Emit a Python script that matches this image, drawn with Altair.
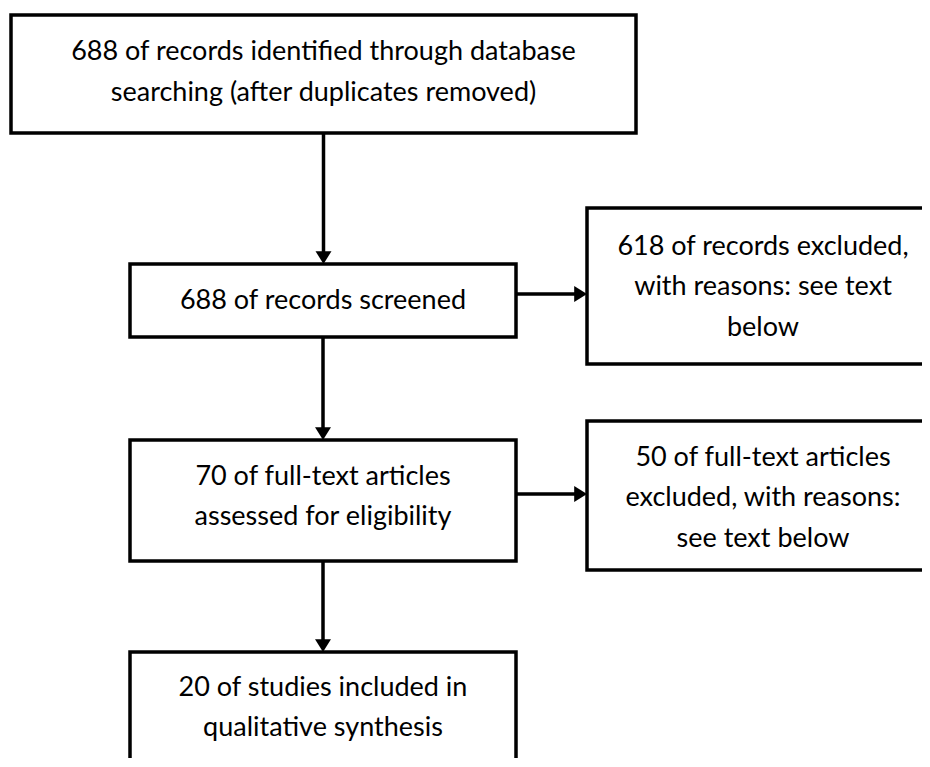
import altair as alt
import pandas as pd

# ---- content ----
box_ids = ["identified", "screened", "excluded_records", "fulltext", "excluded_fulltext", "included"]
box_lines = [
    ["688 of records identified through database", "searching (after duplicates removed)"],
    ["688 of records screened"],
    ["618 of records excluded,", "with reasons: see text", "below"],
    ["70 of full-text articles", "assessed for eligibility"],
    ["50 of full-text articles", "excluded, with reasons:", "see text below"],
    ["20 of studies included in", "qualitative synthesis"],
]
# flow links (from, to, direction)
link_from = ["identified", "screened", "fulltext", "screened", "fulltext"]
link_to = ["screened", "fulltext", "included", "excluded_records", "excluded_fulltext"]
link_dir = ["down", "down", "down", "right", "right"]

# ---- layout (page pixel coordinates) ----
box_x1 = [11, 130, 587, 130, 587, 130]
box_x2 = [636, 516, 940, 516, 940, 516]
box_y1 = [15, 264, 208, 440, 421, 652]
box_y2 = [133, 337, 364, 561, 570, 800]
text_center_y = [72.5, 301, 287, 497, 498, 708]
line_gap = 40.5
head_len = 12.8
right_arrow_y = {"excluded_records": 294, "excluded_fulltext": 494}

W, H = 914, 750
xs = alt.Scale(domain=[8, 8 + W], range=[0, W])
ys = alt.Scale(domain=[8, 8 + H], range=[0, H])

boxes = pd.DataFrame({"id": box_ids, "x1": box_x1, "x2": box_x2, "y1": box_y1, "y2": box_y2})

trows = []
for i, lines in enumerate(box_lines):
    n = len(lines)
    cx = (box_x1[i] + min(box_x2[i], 939)) / 2
    for j, t in enumerate(lines):
        trows.append({"x": cx, "y": text_center_y[i] + (j - (n - 1) / 2) * line_gap, "t": t})
texts = pd.DataFrame(trows)

idx = {b: i for i, b in enumerate(box_ids)}
lrows, hdown, hright = [], [], []
for f, t, d in zip(link_from, link_to, link_dir):
    a, b = idx[f], idx[t]
    if d == "down":
        x = (box_x1[a] + box_x2[a]) / 2
        lrows.append({"x": x, "x2": x, "y": box_y2[a], "y2": box_y1[b] - head_len + 1})
        hdown.append({"x": x, "y": box_y1[b]})
    else:
        y = right_arrow_y[t]
        lrows.append({"x": box_x2[a], "x2": box_x1[b] - head_len + 1, "y": y, "y2": y})
        hright.append({"x": box_x1[b], "y": y})
lines_df = pd.DataFrame(lrows)

rects = alt.Chart(boxes).mark_rect(fill="white", stroke="black", strokeWidth=3.5, clip=True).encode(
    x=alt.X("x1:Q", scale=xs, axis=None), x2="x2:Q",
    y=alt.Y("y1:Q", scale=ys, axis=None), y2="y2:Q",
)
rules = alt.Chart(lines_df).mark_rule(color="black", strokeWidth=3.5).encode(
    x=alt.X("x:Q", scale=xs, axis=None), x2="x2:Q",
    y=alt.Y("y:Q", scale=ys, axis=None), y2="y2:Q",
)
heads_d = alt.Chart(pd.DataFrame(hdown)).mark_point(
    shape="M-1,-1.6L1,-1.6L0,0Z", filled=True, color="black", opacity=1, size=256, strokeWidth=0
).encode(x=alt.X("x:Q", scale=xs, axis=None), y=alt.Y("y:Q", scale=ys, axis=None))
heads_r = alt.Chart(pd.DataFrame(hright)).mark_point(
    shape="M-1.6,-1L-1.6,1L0,0Z", filled=True, color="black", opacity=1, size=256, strokeWidth=0
).encode(x=alt.X("x:Q", scale=xs, axis=None), y=alt.Y("y:Q", scale=ys, axis=None))
labels = alt.Chart(texts).mark_text(
    font="Lato", fontSize=27, color="black", align="center", baseline="middle"
).encode(x=alt.X("x:Q", scale=xs, axis=None), y=alt.Y("y:Q", scale=ys, axis=None), text="t:N")

chart = alt.layer(rects, rules, heads_d, heads_r, labels).properties(
    width=W, height=H, padding=0, autosize=alt.AutoSizeParams(type="none")
).configure_view(stroke=None)

chart.save("out.html", embed_options={"renderer": "svg", "actions": False})
